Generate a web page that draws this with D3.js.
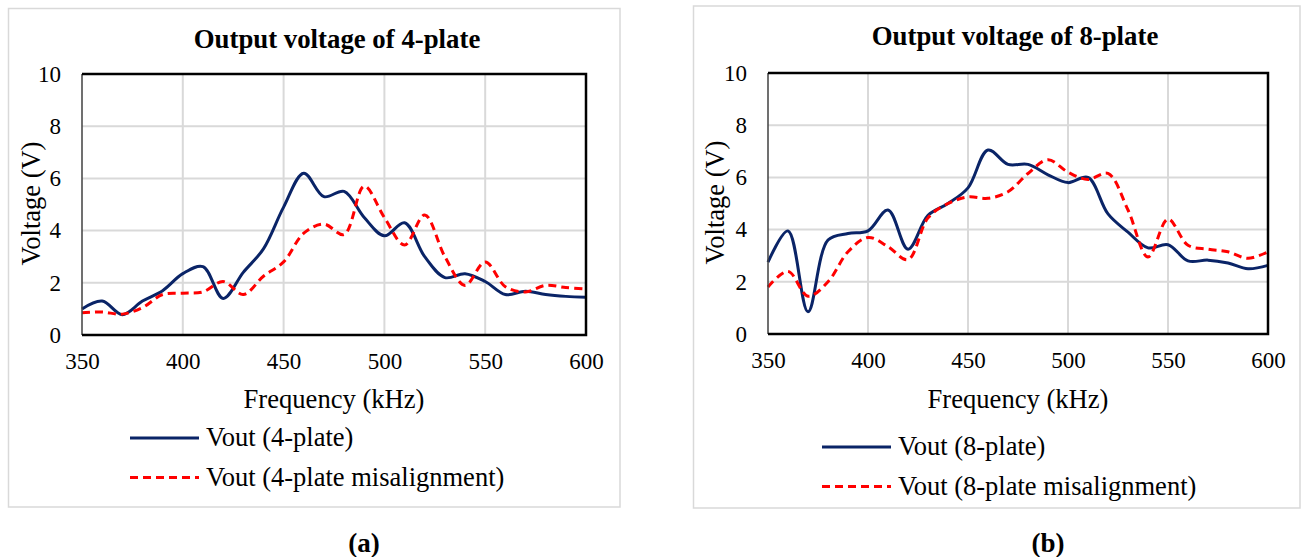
<!DOCTYPE html>
<html lang="en">
<head>
<meta charset="UTF-8">
<title>Output voltage of 4-plate and 8-plate</title>
<script src="https://d3js.org/d3.v7.min.js"></script>
<style>
  body { margin: 0; background: #fff; }
  svg text { font-family: "Liberation Serif", "Times New Roman", Times, serif; fill: #000; }
</style>
</head>
<body>
<svg id="chart" width="1301" height="557"></svg>
<script>
// frequency points (kHz)
const freq = [350, 360, 370, 380, 390, 400, 410, 420, 430, 440, 450, 460, 470,
              480, 490, 500, 510, 520, 530, 540, 550, 560, 570, 580, 590, 600];

// 4-plate
const vout4 = [1.0, 1.3, 0.78, 1.3, 1.7, 2.35, 2.62, 1.4, 2.4, 3.3, 4.9, 6.2, 5.3,
               5.5, 4.5, 3.8, 4.3, 3.0, 2.2, 2.35, 2.05, 1.55, 1.68, 1.55, 1.48, 1.45];
const vout4Mis = [0.85, 0.88, 0.8, 1.05, 1.55, 1.6, 1.65, 2.05, 1.55, 2.25, 2.8, 3.9, 4.25,
                  3.85, 5.7, 4.5, 3.45, 4.6, 3.0, 1.9, 2.8, 1.85, 1.65, 1.9, 1.82, 1.76];

// 8-plate
const vout8 = [2.75, 3.95, 0.85, 3.6, 3.85, 3.95, 4.75, 3.25, 4.55, 5.0, 5.6, 7.05, 6.5,
               6.5, 6.1, 5.8, 6.0, 4.6, 3.9, 3.3, 3.42, 2.8, 2.83, 2.72, 2.5, 2.63];
const vout8Mis = [1.8, 2.4, 1.45, 2.0, 3.15, 3.7, 3.35, 2.85, 4.45, 5.0, 5.25, 5.2, 5.45,
                  6.15, 6.68, 6.2, 5.92, 6.15, 4.75, 2.95, 4.4, 3.4, 3.25, 3.15, 2.9, 3.15];

const xTicks = [350, 400, 450, 500, 550, 600];
const yTicks = [0, 2, 4, 6, 8, 10];

const serif = '"Liberation Serif", "Times New Roman", Times, serif';

const svg = d3.select('#chart');
svg.append('rect').attr('width', 1301).attr('height', 557).attr('fill', '#fff');

const panels = [
  {
    title: 'Output voltage of 4-plate', caption: 'a',
    box: [8.5, 8.5, 620, 507], plot: [82, 74, 586, 335],
    titleX: 337, titleY: 48, yLabelX: 32, capX: 364,
    legX: 130, legY: 438,
    series: [
      { name: 'Vout (4-plate)', values: vout4, color: '#0a2467', dash: null },
      { name: 'Vout (4-plate misalignment)', values: vout4Mis, color: '#ff0000', dash: '8,5' }
    ]
  },
  {
    title: 'Output voltage of 8-plate', caption: 'b',
    box: [693.5, 6, 1300, 508], plot: [768, 73, 1268, 334],
    titleX: 1015, titleY: 45, yLabelX: 716, capX: 1048,
    legX: 822, legY: 447,
    series: [
      { name: 'Vout (8-plate)', values: vout8, color: '#0a2467', dash: null },
      { name: 'Vout (8-plate misalignment)', values: vout8Mis, color: '#ff0000', dash: '8,5' }
    ]
  }
];

panels.forEach(p => {
  const [bx0, by0, bx1, by1] = p.box;
  const [px0, py0, px1, py1] = p.plot;

  svg.append('rect')
    .attr('x', bx0).attr('y', by0)
    .attr('width', bx1 - bx0).attr('height', by1 - by0)
    .attr('fill', '#fff').attr('stroke', '#d9d9d9').attr('stroke-width', 1.5);

  const x = d3.scaleLinear().domain([350, 600]).range([px0, px1]);
  const y = d3.scaleLinear().domain([0, 10]).range([py1, py0]);

  // gridlines
  const grid = svg.append('g').attr('stroke', '#d9d9d9').attr('stroke-width', 2);
  grid.selectAll('.vg').data(xTicks.slice(1, -1)).join('line')
    .attr('x1', d => x(d)).attr('x2', d => x(d))
    .attr('y1', py0).attr('y2', py1);
  grid.selectAll('.hg').data(yTicks.slice(1, -1)).join('line')
    .attr('x1', px0).attr('x2', px1)
    .attr('y1', d => y(d)).attr('y2', d => y(d));

  // curves
  const line = d3.line()
    .x((d, i) => x(freq[i]))
    .y(d => y(d))
    .curve(d3.curveCatmullRom.alpha(0.5));

  p.series.forEach(s => {
    svg.append('path')
      .datum(s.values)
      .attr('d', line)
      .attr('fill', 'none')
      .attr('stroke', s.color)
      .attr('stroke-width', 3)
      .attr('stroke-dasharray', s.dash)
      .attr('stroke-linejoin', 'round');
  });

  // frame
  const frame = svg.append('g');
  frame.append('line').attr('x1', px0).attr('x2', px0).attr('y1', py0).attr('y2', py1)
    .attr('stroke', '#404040').attr('stroke-width', 1.5);
  frame.append('path')
    .attr('d', `M${px0},${py0}H${px1}V${py1}H${px0}`)
    .attr('fill', 'none').attr('stroke', '#000').attr('stroke-width', 2.5);

  // axes
  const ax = svg.append('g').attr('transform', `translate(0,${py1})`)
    .call(d3.axisBottom(x).tickValues(xTicks).tickSize(0).tickPadding(18));
  const ay = svg.append('g').attr('transform', `translate(${px0},0)`)
    .call(d3.axisLeft(y).tickValues(yTicks).tickSize(0).tickPadding(21));
  [ax, ay].forEach(a => {
    a.attr('font-family', null).attr('font-size', null);
    a.select('.domain').remove();
    a.selectAll('text')
      .attr('font-family', serif)
      .attr('font-size', 23)
      .attr('fill', '#000');
  });

  // title
  svg.append('text')
    .attr('x', p.titleX).attr('y', p.titleY)
    .attr('text-anchor', 'middle')
    .attr('font-family', serif)
    .attr('font-size', 26.8).attr('font-weight', 'bold')
    .text(p.title);

  // axis titles
  svg.append('text')
    .attr('x', (px0 + px1) / 2).attr('y', 408)
    .attr('text-anchor', 'middle')
    .attr('font-family', serif)
    .attr('font-size', 26.6)
    .text('Frequency (kHz)');
  svg.append('text')
    .attr('transform', `translate(${p.yLabelX + 8},${(py0 + py1) / 2 - 1}) rotate(-90)`)
    .attr('text-anchor', 'middle')
    .attr('font-family', serif)
    .attr('font-size', 26.5)
    .text('Voltage (V)');

  // legend
  p.series.forEach((s, i) => {
    const ly = p.legY + i * 39.5;
    svg.append('line')
      .attr('x1', p.legX).attr('x2', p.legX + 69)
      .attr('y1', ly).attr('y2', ly)
      .attr('stroke', s.color).attr('stroke-width', 3)
      .attr('stroke-dasharray', s.dash);
    svg.append('text')
      .attr('x', p.legX + 76).attr('y', ly + 8)
      .attr('font-family', serif)
      .attr('font-size', 26.5)
      .text(s.name);
  });

  // caption
  const cap = svg.append('text')
    .attr('x', p.capX).attr('y', 552)
    .attr('text-anchor', 'middle')
    .attr('font-family', serif)
    .attr('font-size', 27).attr('font-weight', 'bold');
  cap.append('tspan').text('(');
  cap.append('tspan').text(p.caption);
  cap.append('tspan').text(')');
});
</script>
</body>
</html>
